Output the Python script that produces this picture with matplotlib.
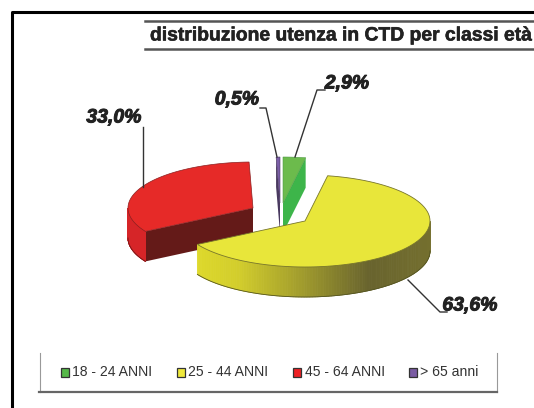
import numpy as np
import matplotlib
matplotlib.use('Agg')
import matplotlib.pyplot as plt
import matplotlib.patheffects as pe
from matplotlib.patches import Polygon, Rectangle

plt.rcParams['font.family'] = ['Liberation Sans', 'DejaVu Sans']

title = 'distribuzione utenza in CTD per classi età'
categories = ['18 - 24 ANNI', '25 - 44 ANNI', '45 - 64 ANNI', '> 65 anni']
values = [2.9, 63.6, 33.0, 0.5]
labels = ['2,9%', '63,6%', '33,0%', '0,5%']
top_colors = ['#6cbb4c', '#e8e63a', '#e62a28', '#7b5ea7']
legend_colors = ['#55b848', '#efe93c', '#ee2024', '#7a5ca3']

# pie geometry in pixels
rx, ry, depth = 125, 46, 30
apex = [(283, 203), (305, 221), (253, 208), (280, 203)]

fig = plt.figure(figsize=(5.34, 4.08), dpi=100)
ax = fig.add_axes([0, 0, 1, 1])
ax.set_xlim(0, 534)
ax.set_ylim(408, 0)
ax.axis('off')


def rim(i, t):
    t = np.radians(t)
    return apex[i][0] + rx * np.sin(t), apex[i][1] - ry * np.cos(t)


def wedge(i, a, b):
    t = np.linspace(a, b, 90)
    x, y = rim(i, t)
    return np.column_stack([np.r_[apex[i][0], x], np.r_[apex[i][1], y]])


def cut(i, t, color, z):
    x, y = rim(i, t)
    ax0, ay0 = apex[i]
    ax.add_patch(Polygon([(ax0, ay0), (x, y), (x, y + depth), (ax0, ay0 + depth)],
                         fc=color, ec='none', zorder=z))


def wall(i, a, b, z):
    # outer wall as narrow strips, shaded by x position
    t = np.linspace(a, b, 120)
    x, y = rim(i, t)
    for k in range(len(t) - 1):
        if i == 1:
            c = np.interp(x[k], [198, 240, 300, 370, 430],
                          [0, 0.1, 0.5, 1, 0.9])
            col = (1 - c) * np.array([0.87, 0.85, 0.17]) + c * np.array([0.41, 0.39, 0.18])
        else:
            col = '#d62528'
        ax.add_patch(Polygon([(x[k], y[k]), (x[k + 1], y[k + 1]),
                              (x[k + 1], y[k + 1] + depth), (x[k], y[k] + depth)],
                             fc=col, ec=col, lw=0.6, zorder=z))
    ax.plot(x, y + depth, color='#555522' if i == 1 else '#701818', lw=0.6, zorder=z + 0.1)


angles = np.r_[0, np.cumsum(values)] * 3.6
a0, a1 = angles[:-1], angles[1:]

# red
cut(2, a0[2], '#641a18', 2)
wall(2, a0[2], 270, 2)
ax.add_patch(Polygon(wedge(2, a0[2], a1[2]), fc=top_colors[2], ec='#8a2020', lw=0.5, zorder=3))

# purple
cut(3, a0[3], '#4a3a60', 2)
ax.add_patch(Polygon(wedge(3, a0[3], a1[3]), fc=top_colors[3], ec='#4a3a60', lw=0.4, zorder=3))

# green
cut(0, a1[0], '#3db54a', 2)
ax.add_patch(Polygon(wedge(0, a0[0], a1[0]), fc=top_colors[0], ec='#4f9a45', lw=0.4, zorder=3))

# yellow on top of the others
wall(1, 90, a1[1], 5)
ax.add_patch(Polygon(wedge(1, a0[1], a1[1]), fc=top_colors[1], ec='#77752a', lw=0.6, zorder=6))

# leaders and value labels
leaders = [([295, 317, 325], [157, 90, 90]),
           ([408, 440, 447], [280, 312, 312]),
           ([143, 143], [187, 127]),
           ([277, 266, 260], [157, 108, 108])]
label_pos = [(347, 84), (470, 306), (114, 118), (237, 100)]
for (lx, ly), s, pos in zip(leaders, labels, label_pos):
    ax.plot(lx, ly, color='#333333', lw=1, zorder=4)
    ax.text(pos[0], pos[1], s, fontsize=14, fontweight='bold', style='italic',
            color='#222222', ha='center', va='center',
            path_effects=[pe.withStroke(linewidth=0.7, foreground='#222222')])

# frame
ax.plot([12, 12, 534], [408, 12, 12], color='black', lw=2.2, solid_capstyle='butt')

# title block
ax.plot([145, 534], [21, 21], color='#555555', lw=1.8)
ax.plot([145, 534], [49, 49], color='#555555', lw=1.8)
ax.text(150, 36, title, fontsize=13.9, fontweight='bold', color='#222222', ha='left', va='center',
        path_effects=[pe.withStroke(linewidth=0.4, foreground='#222222')])

# legend box (no top side)
ax.plot([39.5, 39.5], [353, 392], color='#999999', lw=0.8)
ax.plot([497, 497], [353, 392], color='#999999', lw=0.8)
ax.plot([39, 497], [391.5, 391.5], color='#666666', lw=1.6)
sq_x = [60.5, 176.5, 293, 408.5]
for x, c, s in zip(sq_x, legend_colors, categories):
    ax.add_patch(Rectangle((x, 368), 8, 9, fc=c, ec='#333333', lw=0.9))
    ax.text(x + 12, 372.5, s, fontsize=10.1, color='#333333', ha='left', va='center')

fig.savefig('out.png', dpi=100, facecolor='white')
